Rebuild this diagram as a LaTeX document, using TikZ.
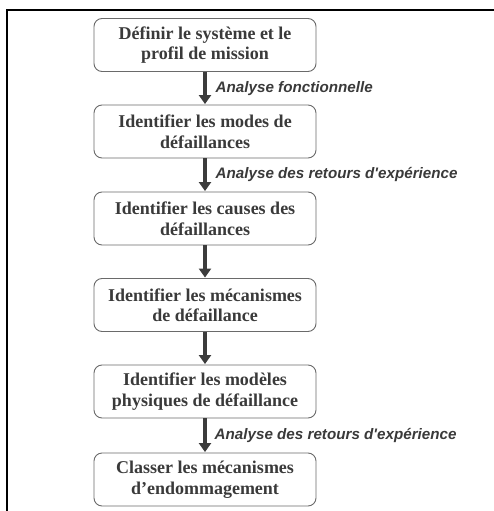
\documentclass[tikz,border=0pt]{standalone}
\usepackage{fontspec}
\setmainfont{Liberation Serif}
\newfontfamily\labfont{Liberation Sans}
\usetikzlibrary{arrows.meta}
\definecolor{txt}{HTML}{3A3A3A}
\definecolor{bord}{HTML}{6A6A6A}
\definecolor{arr}{HTML}{3C3C3C}
\tikzset{
  stepbox/.style={draw=bord, line width=0.9pt, rounded corners=8pt, minimum width=222pt, minimum height=53pt,
    align=center, text=txt, font=\fontsize{18}{20.5}\selectfont\bfseries, inner sep=2pt},
  flow/.style={draw=arr, line width=3.4pt, -{Triangle[length=9pt,width=12pt]}, shorten >=0.5pt},
  lab/.style={anchor=west, text=txt, font=\labfont\fontsize{15.2}{17}\selectfont\bfseries\itshape, inner sep=0pt}
}
\begin{document}
\begin{tikzpicture}[x=1pt,y=1pt]
\useasboundingbox (0,0) rectangle (494,-511);
\draw[line width=2pt] (7,-511) -- (7,-10) -- (494,-10);
\node[stepbox] (b1) at (205,-45) {Définir le système et le\\profil de mission};
\node[stepbox] (b2) at (205,-131.5) {Identifier les modes de\\défaillances};
\node[stepbox] (b3) at (205,-218.5) {Identifier les causes des\\défaillances};
\node[stepbox] (b4) at (205,-305) {Identifier les mécanismes\\de défaillance};
\node[stepbox] (b5) at (205,-391.5) {Identifier les modèles\\physiques de défaillance};
\node[stepbox] (b6) at (205,-479.5) {Classer les mécanismes\\d’endommagement};
\draw[flow] (b1) -- (b2) node[midway, lab, xshift=9pt] {Analyse fonctionnelle};
\draw[flow] (b2) -- (b3) node[midway, lab, xshift=9pt] {Analyse des retours d'expérience};
\draw[flow] (b3) -- (b4);
\draw[flow] (b4) -- (b5);
\draw[flow] (b5) -- (b6) node[midway, lab, xshift=8pt] {Analyse des retours d'expérience};
\end{tikzpicture}
\end{document}
